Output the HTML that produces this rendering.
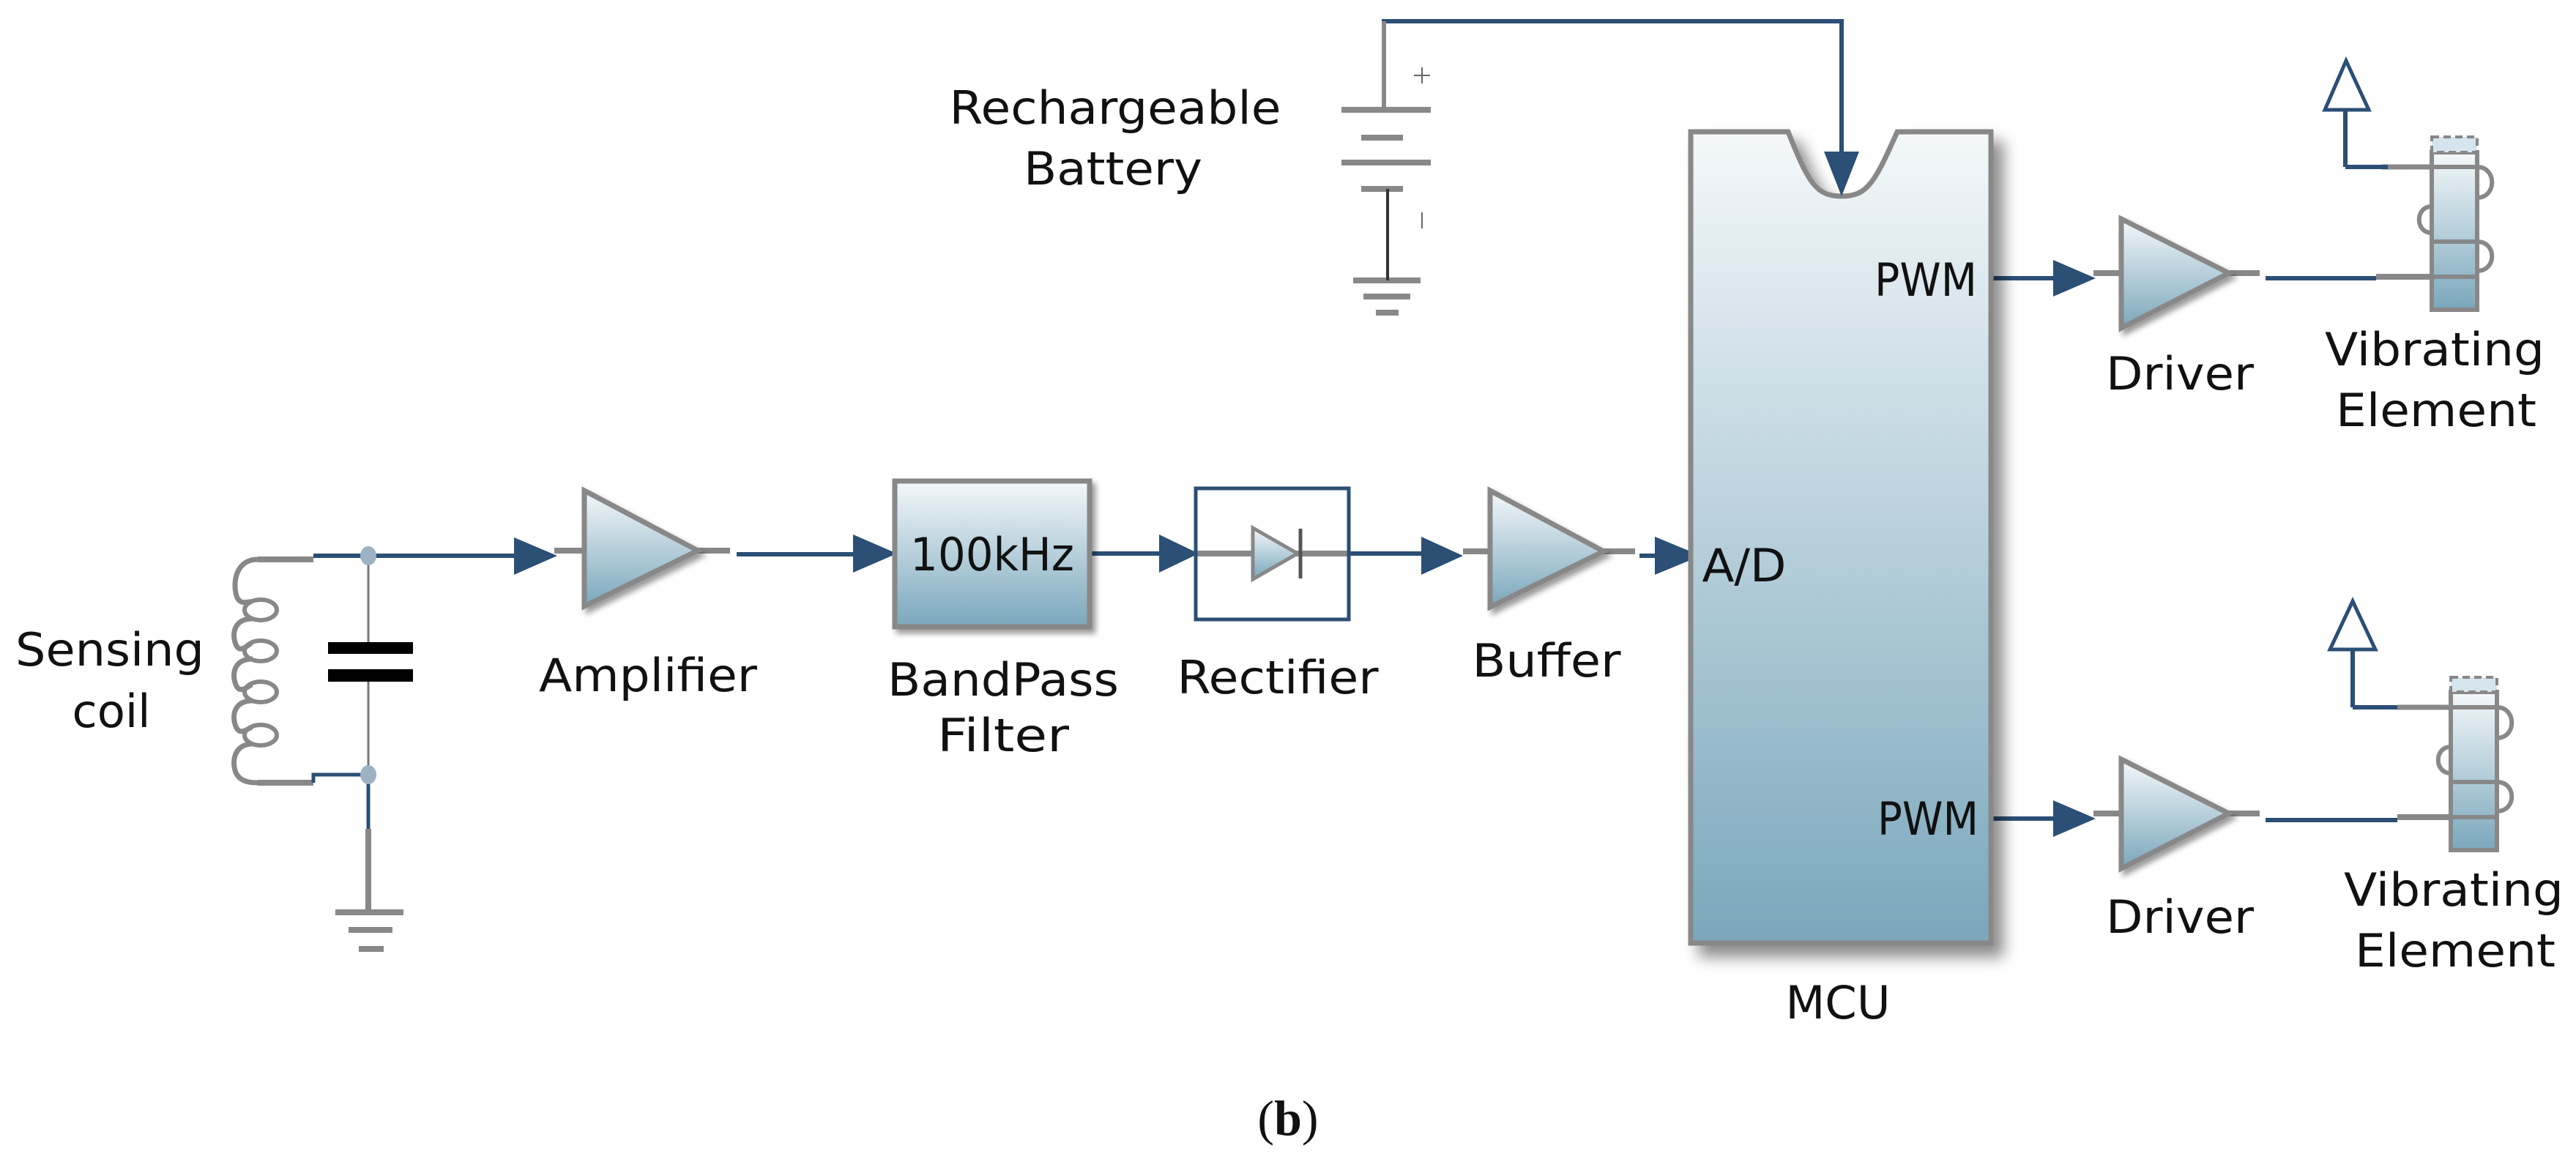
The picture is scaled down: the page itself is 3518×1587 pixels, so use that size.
<!DOCTYPE html>
<html><head><meta charset="utf-8"><style>html,body{margin:0;padding:0;background:#fff}svg{display:block}text{font-family:"DejaVu Sans","Liberation Sans",sans-serif;fill:#111}</style></head>
<body>
<svg width="3518" height="1587" viewBox="0 0 3518 1587" xmlns="http://www.w3.org/2000/svg">
<defs>
<linearGradient id="g" x1="0" y1="0" x2="0" y2="1"><stop offset="0" stop-color="#f4f8fa"/><stop offset="1" stop-color="#7aa7bc"/></linearGradient>
<filter id="sh" x="-20%" y="-20%" width="150%" height="150%"><feGaussianBlur in="SourceAlpha" stdDeviation="10"/><feOffset dx="14" dy="16"/><feComponentTransfer><feFuncA type="linear" slope="0.45"/></feComponentTransfer><feMerge><feMergeNode/><feMergeNode in="SourceGraphic"/></feMerge></filter>
<filter id="sh2" x="-20%" y="-20%" width="150%" height="150%"><feGaussianBlur in="SourceAlpha" stdDeviation="4"/><feOffset dx="5" dy="6"/><feComponentTransfer><feFuncA type="linear" slope="0.4"/></feComponentTransfer><feMerge><feMergeNode/><feMergeNode in="SourceGraphic"/></feMerge></filter>
</defs>
<g fill="none" stroke-linecap="butt">
<!-- coil -->
<path d="M352 764 H428" stroke="#888" stroke-width="8"/>
<path d="M352 1069 H428" stroke="#888" stroke-width="8"/>
<g stroke="#888" stroke-width="7">
<path d="M352 764 C325 764 318 790 322 810 C326 830 340 820 345 822"/>
<path d="M345 845 C320 845 316 865 322 880 C328 895 340 878 345 878"/>
<path d="M345 900 C320 900 316 920 322 935 C328 950 340 935 345 935"/>
<path d="M345 957 C320 957 316 977 322 992 C328 1007 340 993 345 993"/>
<path d="M345 1016 C320 1016 316 1040 322 1055 C328 1069 345 1069 352 1069"/>
</g>
<g stroke="#888" stroke-width="6"><ellipse cx="356" cy="833" rx="22" ry="14"/><ellipse cx="356" cy="889" rx="22" ry="14"/><ellipse cx="356" cy="945" rx="22" ry="14"/><ellipse cx="356" cy="1004" rx="22" ry="14"/></g>
<path d="M428 759 H705" stroke="#2b4f75" stroke-width="6"/>
<path d="M428 1069 V1058 H503 V1132" stroke="#2b4f75" stroke-width="5"/>
<path d="M503 1132 V1246" stroke="#888" stroke-width="8"/>
<path d="M503 759 V877 M503 931 V1058" stroke="#777" stroke-width="3"/>
<g stroke="#888" stroke-width="8"><path d="M458 1246 H551 M476 1270 H536 M490 1296 H524"/></g>
<!-- battery -->
<path d="M1890 150 V29 H2515 V210" stroke="#2b4f75" stroke-width="6"/>
<path d="M1890 29 V150" stroke="#888" stroke-width="6"/>
<g stroke="#888" stroke-width="8"><path d="M1832 150 H1954 M1859 188 H1916 M1832 222 H1954 M1859 258 H1916 M1848 383 H1940 M1862 405 H1926 M1879 427 H1910"/></g>
<path d="M1895 258 V383" stroke="#333" stroke-width="4"/>
<path d="M1942 92 V114 M1931 103 H1953 M1942 290 V312" stroke="#666" stroke-width="2"/>
<!-- wires main row -->
<path d="M1006 757 H1170 M1490 756 H1590 M1844 756 H1945 M2239 759 H2265 M2721 380 H2810 M2721 1118 H2810 M3094 380 H3245 M3094 1120 H3274" stroke="#2b4f75" stroke-width="6"/>
<path d="M757 752 H800 M953 752 H997 M1633 756 H1842 M1998 753 H2037 M2188 753 H2233 M2859 373 H2900 M3040 373 H3086 M2859 1111 H2900 M3040 1111 H3086 M3245 378 H3321 M3274 1116 H3347" stroke="#888" stroke-width="8"/>
</g>
<!-- arrowheads -->
<g fill="#2b4f75">
<path d="M702 734 L761 759 L702 785Z"/>
<path d="M1165 730 L1225 756 L1165 782Z"/>
<path d="M1583 730 L1637 756 L1583 782Z"/>
<path d="M1941 733 L1998 759 L1941 785Z"/>
<path d="M2260 733 L2323 759 L2260 785Z"/>
<path d="M2804 355 L2862 380 L2804 405Z"/>
<path d="M2804 1093 L2862 1118 L2804 1143Z"/>
</g>
<!-- cap plates -->
<rect x="448" y="877" width="116" height="16" fill="#000"/>
<rect x="448" y="914" width="116" height="17" fill="#000"/>
<g fill="#9bb3c3"><ellipse cx="503" cy="759" rx="11" ry="13"/><ellipse cx="503" cy="1058" rx="11" ry="13"/></g>
<!-- amplifiers -->
<g fill="url(#g)" stroke="#888" stroke-width="7" filter="url(#sh2)">
<path d="M798 670 L953 752 L798 828Z"/>
<path d="M2035 670 L2190 753 L2035 829Z"/>
<path d="M2897 299 L3044 373 L2897 448Z"/>
<path d="M2897 1037 L3044 1111 L2897 1186Z"/>
</g>
<!-- bandpass -->
<rect x="1222" y="657" width="266" height="199" fill="url(#g)" stroke="#888" stroke-width="7" filter="url(#sh2)"/>
<!-- rectifier -->
<rect x="1633" y="667" width="209" height="179" fill="none" stroke="#2b4f75" stroke-width="5"/>
<path d="M1711 721 L1772 756 L1711 791Z" fill="url(#g)" stroke="#888" stroke-width="5"/>
<path d="M1776 722 V790" stroke="#555" stroke-width="5"/>
<!-- MCU -->
<path d="M2309 180 H2442 C2470 250 2480 268 2515 268 C2550 268 2560 250 2591 180 H2719 V1288 H2309Z" fill="url(#g)" stroke="#888" stroke-width="7" filter="url(#sh)"/>
<path d="M2491 207 L2539 207 L2515 268Z" fill="#2b4f75"/>
<!-- vibrating elements -->
<g>
<path d="M3253 228 H3321" stroke="#888" stroke-width="7"/>
<path d="M3203 228 H3261" stroke="#2b4f75" stroke-width="6"/>
<path d="M3203 228 V150" stroke="#2b4f75" stroke-width="6"/>
<path d="M3175 150 L3235 150 L3204 83Z" fill="none" stroke="#2b4f75" stroke-width="5"/>
<rect x="3321" y="208" width="62" height="215" fill="url(#g)" stroke="#888" stroke-width="6"/>
<rect x="3321" y="187" width="62" height="21" fill="#d6e5ed" stroke="#888" stroke-width="4" stroke-dasharray="10 6"/>
<g fill="none" stroke="#888" stroke-width="6"><path d="M3321 228 H3383 C3410 228 3410 270 3383 270 M3321 282 C3298 282 3298 318 3321 318 M3321 330 H3383 C3410 330 3410 370 3383 370 M3321 378 H3383"/></g>
</g>
<g>
<path d="M3274 966 H3347" stroke="#888" stroke-width="7"/>
<path d="M3213 966 H3274 M3213 966 V887" stroke="#2b4f75" stroke-width="6" fill="none"/>
<path d="M3182 887 L3244 887 L3213 821Z" fill="none" stroke="#2b4f75" stroke-width="5"/>
<rect x="3347" y="945" width="63" height="216" fill="url(#g)" stroke="#888" stroke-width="6"/>
<rect x="3347" y="925" width="63" height="20" fill="#d6e5ed" stroke="#888" stroke-width="4" stroke-dasharray="10 6"/>
<g fill="none" stroke="#888" stroke-width="6"><path d="M3347 966 H3410 C3437 966 3437 1008 3410 1008 M3347 1020 C3324 1020 3324 1056 3347 1056 M3347 1068 H3410 C3437 1068 3437 1108 3410 1108 M3347 1116 H3410"/></g>
</g>
<!-- labels -->
<g font-size="62">
<text x="150" y="909" text-anchor="middle" textLength="258" lengthAdjust="spacingAndGlyphs">Sensing</text>
<text x="152" y="993" text-anchor="middle" textLength="107" lengthAdjust="spacingAndGlyphs">coil</text>
<text x="885" y="944" text-anchor="middle" textLength="298" lengthAdjust="spacingAndGlyphs">Amplifier</text>
<text x="1355" y="779" text-anchor="middle" textLength="224" lengthAdjust="spacingAndGlyphs">100kHz</text>
<text x="1370" y="950" text-anchor="middle" textLength="316" lengthAdjust="spacingAndGlyphs">BandPass</text>
<text x="1370" y="1026" text-anchor="middle" textLength="180" lengthAdjust="spacingAndGlyphs">Filter</text>
<text x="1745" y="947" text-anchor="middle" textLength="275" lengthAdjust="spacingAndGlyphs">Rectifier</text>
<text x="2112" y="924" text-anchor="middle" textLength="203" lengthAdjust="spacingAndGlyphs">Buffer</text>
<text x="2382" y="794" text-anchor="middle" textLength="115" lengthAdjust="spacingAndGlyphs">A/D</text>
<text x="1523" y="169" text-anchor="middle" textLength="453" lengthAdjust="spacingAndGlyphs">Rechargeable</text>
<text x="1520" y="252" text-anchor="middle" textLength="244" lengthAdjust="spacingAndGlyphs">Battery</text>
<text x="2630" y="404" text-anchor="middle" textLength="140" lengthAdjust="spacingAndGlyphs">PWM</text>
<text x="2633" y="1140" text-anchor="middle" textLength="138" lengthAdjust="spacingAndGlyphs">PWM</text>
<text x="2510" y="1391" text-anchor="middle" textLength="143" lengthAdjust="spacingAndGlyphs">MCU</text>
<text x="2977" y="532" text-anchor="middle" textLength="202" lengthAdjust="spacingAndGlyphs">Driver</text>
<text x="2977" y="1274" text-anchor="middle" textLength="202" lengthAdjust="spacingAndGlyphs">Driver</text>
<text x="3325" y="499" text-anchor="middle" textLength="300" lengthAdjust="spacingAndGlyphs">Vibrating</text>
<text x="3327" y="582" text-anchor="middle" textLength="274" lengthAdjust="spacingAndGlyphs">Element</text>
<text x="3351" y="1237" text-anchor="middle" textLength="300" lengthAdjust="spacingAndGlyphs">Vibrating</text>
<text x="3353" y="1320" text-anchor="middle" textLength="274" lengthAdjust="spacingAndGlyphs">Element</text>
</g>
<text x="1759" y="1550" text-anchor="middle" font-size="68" style="font-family:'Liberation Serif',serif"><tspan>(</tspan><tspan font-weight="bold">b</tspan><tspan>)</tspan></text>
</svg>
</body></html>
